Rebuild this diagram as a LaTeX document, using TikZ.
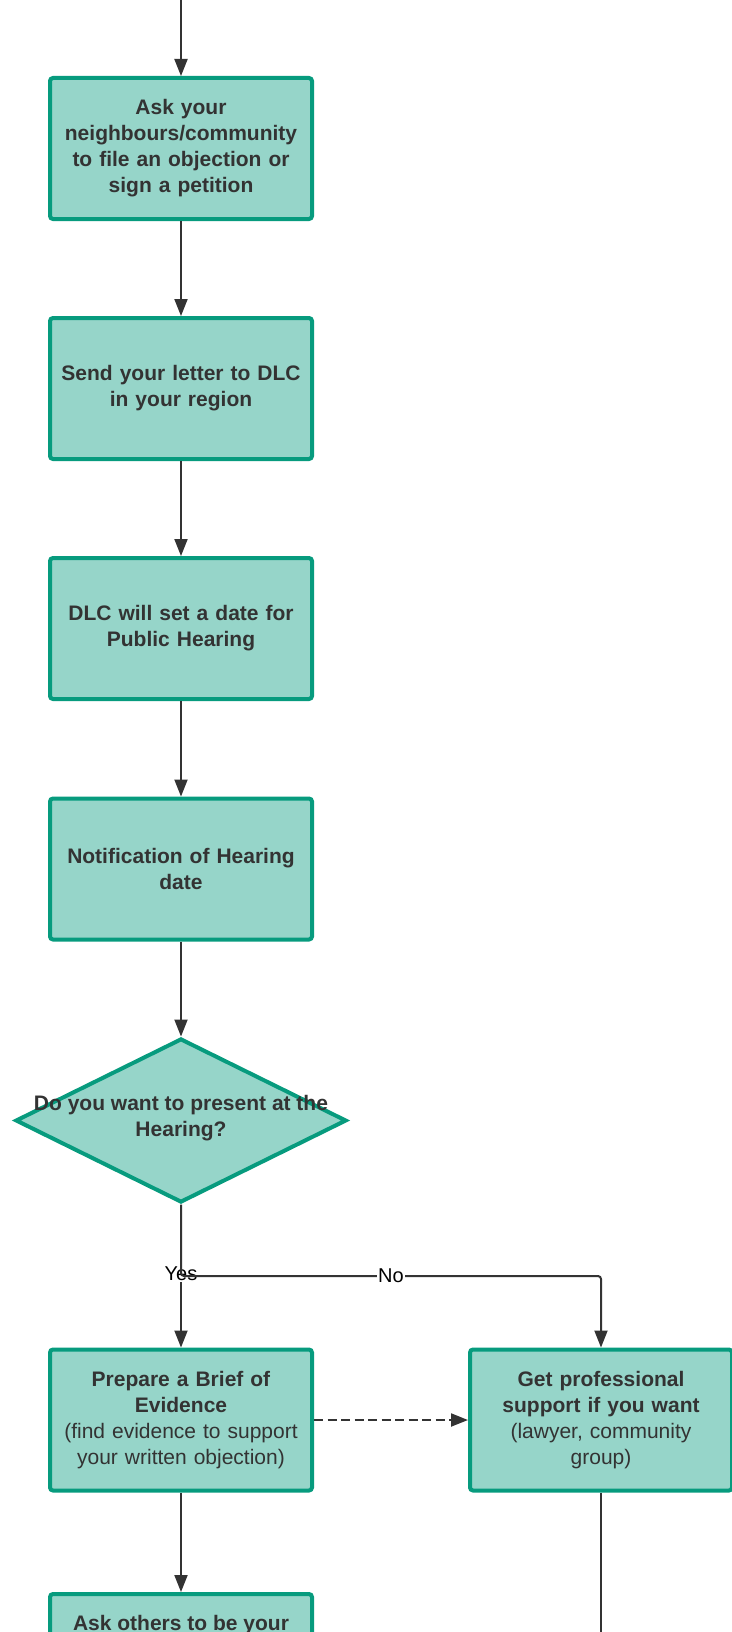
\documentclass[tikz,border=0pt]{standalone}
\usepackage{fontspec}
\setmainfont{Liberation Sans}
\usetikzlibrary{arrows.meta,shapes.geometric}
\definecolor{boxfill}{HTML}{96D5C9}
\definecolor{boxline}{HTML}{079B7E}
\definecolor{ink}{HTML}{333333}
\tikzset{
  box/.style={draw=boxline, line width=4pt, fill=boxfill, rounded corners=3pt,
    minimum width=262pt, minimum height=141pt, text width=250pt, align=center,
    text=ink, font=\fontsize{21}{26}\selectfont\bfseries, inner sep=0pt},
  boxtext/.style={text=ink, font=\fontsize{21}{26}\selectfont\bfseries, align=center, inner sep=0pt},
  decision/.style={diamond, draw=boxline, line width=4pt, fill=boxfill,
    minimum width=331pt, minimum height=164pt, inner sep=0pt},
  conn/.style={draw=ink, line width=2pt, -{Triangle[length=17pt,width=13pt]}},
  plainline/.style={draw=ink, line width=2pt},
  lbl/.style={font=\fontsize{20}{24}\selectfont, text=black, fill=white, inner sep=1pt},
}
\begin{document}
\begin{tikzpicture}[x=1pt,y=-1pt]
\useasboundingbox (0,0) rectangle (731,1632);
\coordinate (top) at (181,0);
\node[box] (b1) at (181,148.5) {Ask your\\neighbours/community\\to file an objection or\\sign a petition};
\node[box] (b2) at (181,388.5) {Send your letter to DLC\\in your region};
\node[box] (b3) at (181,628.5) {DLC will set a date for\\Public Hearing};
\node[box] (b4) at (181,869) {Notification of Hearing\\date};
\node[decision] (d) at (181,1120.5) {};
\node[boxtext] (dt) at (181,1118.5) {Do you want to present at the\\Hearing?};
\node[box] (b5) at (181,1420) {Prepare a Brief of\\Evidence\\{\mdseries (find evidence to support}\\{\mdseries your written objection)}};
\node[box] (g) at (601,1420) {Get professional\\support if you want\\{\mdseries (lawyer, community}\\{\mdseries group)}};
\node[box] (b6) at (181,1664.5) {};
\node[boxtext, anchor=base] (b6t) at (181,1630) {Ask others to be your};
\coordinate (gend) at (601,1640);

\draw[conn] (top) -- (b1);
\draw[conn] (b1) -- (b2);
\draw[conn] (b2) -- (b3);
\draw[conn] (b3) -- (b4);
\draw[conn] (b4) -- (d);
\draw[conn] (d.south) -- node[lbl, pos=0.486] {Yes} (b5.north);
\draw[conn, rounded corners=3pt] (d.south) -- ++(0,71.5) -| node[lbl, pos=0.25] {No} (g.north);
\draw[conn, dash pattern=on 9pt off 4.5pt] (b5.east) -- (g.west);
\draw[conn] (b5) -- (b6);
\draw[plainline] (g.south) -- (gend);
\end{tikzpicture}
\end{document}
